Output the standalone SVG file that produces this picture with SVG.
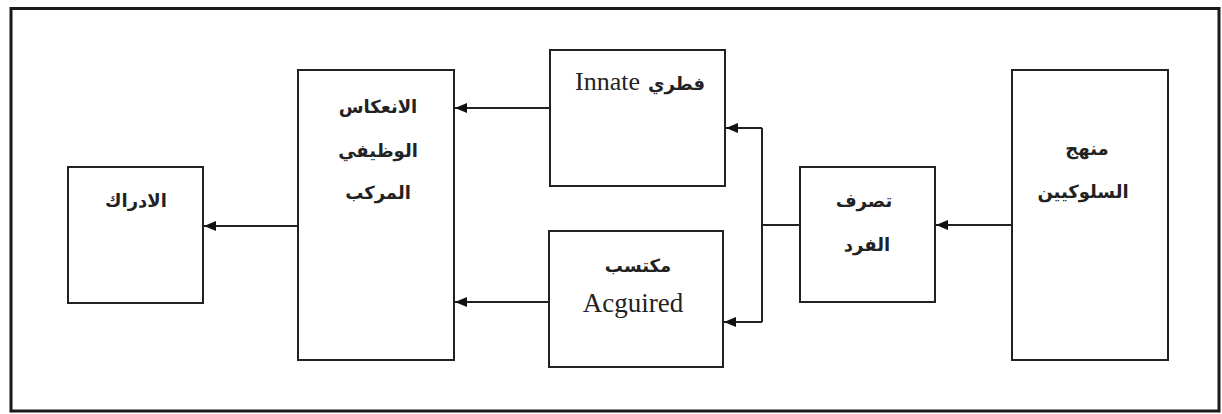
<svg xmlns="http://www.w3.org/2000/svg" width="1222" height="414" viewBox="0 0 1222 414">
  <style>
    .box { fill: #fff; stroke: #222; stroke-width: 2; }
    .ar { font-family: "DejaVu Sans", "Noto Sans", sans-serif; font-size: 18px; font-weight: bold; fill: #222; text-anchor: middle; }
    .en { font-family: "Liberation Serif", serif; fill: #222; text-anchor: middle; }
    .line { fill: none; stroke: #222; stroke-width: 2; }
  </style>
  <defs>
    <marker id="head" viewBox="0 0 12 10" refX="12" refY="5" markerWidth="12" markerHeight="10" markerUnits="userSpaceOnUse" orient="auto">
      <path d="M0,0 L12,5 L0,10 Z" fill="#111"/>
    </marker>
  </defs>

  <!-- outer frame -->
  <rect x="11" y="8.5" width="1208" height="402.5" fill="#fff" stroke="#1a1a1a" stroke-width="3"/>

  <!-- connectors -->
  <g id="connectors">
    <line class="line" x1="1012" y1="225" x2="936" y2="225" marker-end="url(#head)"/>
    <line class="line" x1="800" y1="225" x2="762" y2="225"/>
    <polyline class="line" points="762,128 762,322"/>
    <line class="line" x1="762" y1="128" x2="726" y2="128" marker-end="url(#head)"/>
    <line class="line" x1="762" y1="322" x2="724" y2="322" marker-end="url(#head)"/>
    <line class="line" x1="550" y1="108" x2="455" y2="108" marker-end="url(#head)"/>
    <line class="line" x1="549" y1="302" x2="455" y2="302" marker-end="url(#head)"/>
    <line class="line" x1="298" y1="226" x2="204" y2="226" marker-end="url(#head)"/>
  </g>

  <g id="behaviorists">
    <rect class="box" x="1012" y="70" width="156" height="290"/>
    <text class="ar" x="1087" y="155">منهج</text>
    <text class="ar" x="1083" y="198">السلوكيين</text>
  </g>

  <g id="individual-behavior">
    <rect class="box" x="800" y="167" width="135" height="135"/>
    <text class="ar" x="864" y="207">تصرف</text>
    <text class="ar" x="867" y="251">الفرد</text>
  </g>

  <g id="innate">
    <rect class="box" x="550" y="50" width="175" height="136"/>
    <text x="640" y="90" text-anchor="middle"><tspan class="en" font-size="26">Innate</tspan><tspan class="ar" dx="8">فطري</tspan></text>
  </g>

  <g id="acquired">
    <rect class="box" x="549" y="231" width="174" height="136"/>
    <text class="ar" x="638" y="272">مكتسب</text>
    <text class="en" x="633" y="312" font-size="27">Acguired</text>
  </g>

  <g id="compound-reflex">
    <rect class="box" x="298" y="70" width="156" height="290"/>
    <text class="ar" x="378" y="113">الانعكاس</text>
    <text class="ar" x="378" y="157">الوظيفي</text>
    <text class="ar" x="378" y="199">المركب</text>
  </g>

  <g id="perception">
    <rect class="box" x="68" y="167" width="135" height="136"/>
    <text class="ar" x="136" y="207">الادراك</text>
  </g>
</svg>
